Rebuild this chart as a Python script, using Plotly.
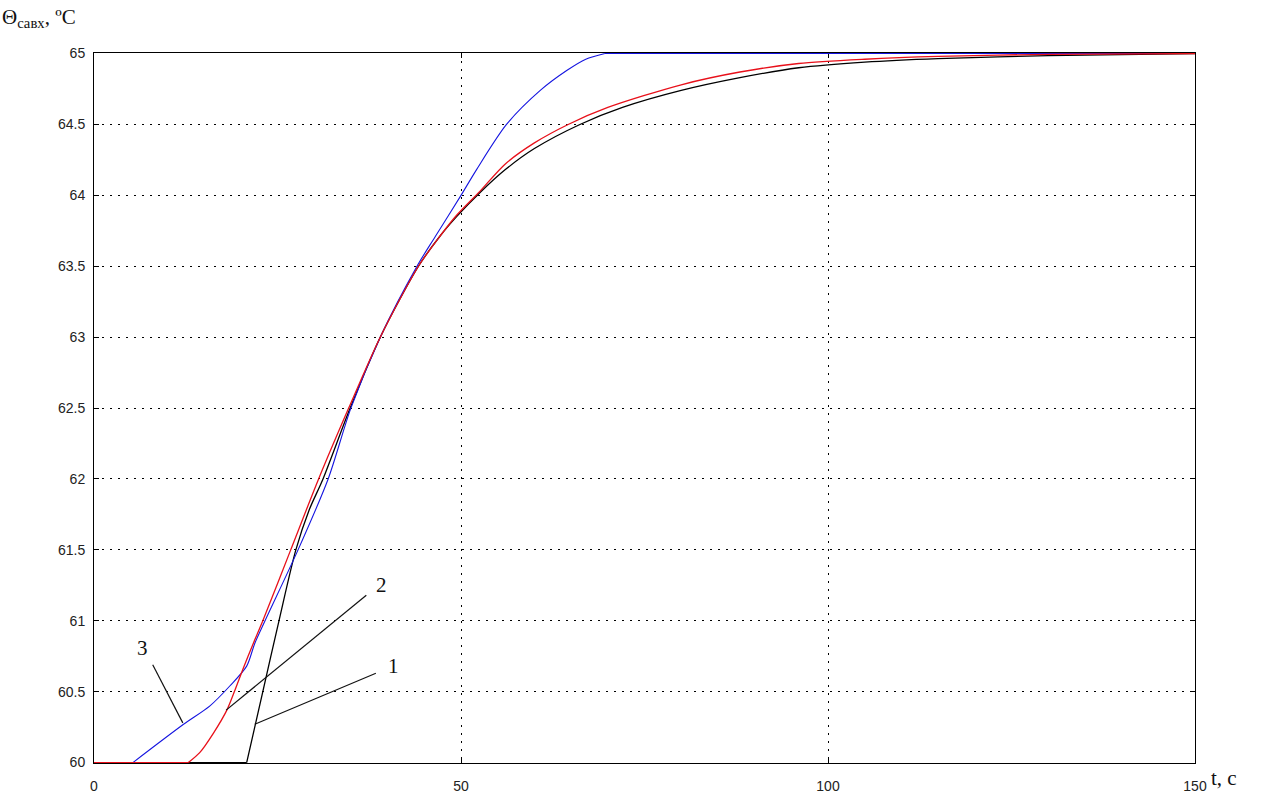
import plotly.graph_objects as go

# Curve 1 (black)
t1 = [0, 20.8, 23.0, 25.2, 27.5, 29.3, 31.2, 34.9, 39.0, 44.2, 47.1, 49.4, 52.6, 56, 60, 66.2, 72, 80, 88, 96, 105, 115, 130, 150]
v1 = [60, 60, 60.5, 61.0, 61.5, 61.78, 62.0, 62.5, 63.0, 63.5, 63.71, 63.85, 64.02, 64.18, 64.33, 64.5, 64.62, 64.74, 64.83, 64.9, 64.94, 64.965, 64.985, 65.0]

# Curve 2 (red)
t2 = [0, 12.85, 14.4, 16.3, 18.1, 19.2, 20.3, 21.7, 23.0, 26.8, 30.6, 34.7, 39.0, 44.2, 47.1, 49.4, 52.6, 56, 60, 64.6, 70, 80, 88, 96, 105, 115, 130, 150]
v2 = [60, 60, 60.07, 60.21, 60.37, 60.51, 60.66, 60.84, 61.0, 61.5, 62.0, 62.5, 63.0, 63.5, 63.71, 63.86, 64.03, 64.22, 64.37, 64.5, 64.62, 64.78, 64.87, 64.93, 64.96, 64.98, 64.995, 65.0]

# Curve 3 (blue)
t3 = [0, 5.3, 12.2, 15.8, 18.5, 20.8, 21.9, 23.3, 27.8, 31.9, 35.0, 39.0, 44.0, 46.5, 50.0, 52.1, 56.2, 60.8, 64.4, 67.0, 69.6, 150]
v3 = [60, 60, 60.27, 60.40, 60.54, 60.68, 60.84, 61.0, 61.5, 62.0, 62.5, 63.0, 63.5, 63.71, 64.0, 64.18, 64.5, 64.74, 64.88, 64.96, 65.0, 65.0]

x_ticks = [0, 50, 100, 150]
y_ticks = [60, 60.5, 61, 61.5, 62, 62.5, 63, 63.5, 64, 64.5, 65]
y_tick_text = ["60", "60.5", "61", "61.5", "62", "62.5", "63", "63.5", "64", "64.5", "65"]

# Curve labels: text, text position, leader line start/end
labels = ["1", "2", "3"]
label_t = [40.8, 39.2, 6.6]
label_v = [60.68, 61.25, 60.81]
lead_t0 = [38.4, 37.1, 8.0]
lead_v0 = [60.63, 61.18, 60.69]
lead_t1 = [21.9, 18.0, 12.1]
lead_v1 = [60.27, 60.37, 60.28]


def split_flat(t, v):
    """Split a curve into flat plateaus drawn straight and a rising part drawn smooth."""
    lo_end = max(i for i in range(len(v)) if v[i] == v[0])
    hi_start = min(i for i in range(len(v)) if v[i] == v[-1])
    parts = [(t[:lo_end + 1], v[:lo_end + 1], "linear"),
             (t[lo_end:hi_start + 1], v[lo_end:hi_start + 1], "spline")]
    if hi_start < len(v) - 1:
        parts.append((t[hi_start:], v[hi_start:], "linear"))
    return parts


fig = go.Figure()
for (t, v, color, width) in [(t1, v1, "#000000", 1.3), (t3, v3, "#1414E0", 1.1), (t2, v2, "#E8101A", 1.3)]:
    for (tt, vv, shape) in split_flat(t, v):
        fig.add_trace(go.Scatter(x=tt, y=vv, mode="lines", line=dict(color=color, width=width, shape=shape, smoothing=0.8),
                                 showlegend=False, hoverinfo="skip"))

for i in range(len(labels)):
    fig.add_shape(type="line", x0=lead_t0[i], y0=lead_v0[i], x1=lead_t1[i], y1=lead_v1[i],
                  xref="x", yref="y", line=dict(color="#111111", width=1.2))
    fig.add_annotation(x=label_t[i], y=label_v[i], xref="x", yref="y", text=labels[i], showarrow=False,
                       font=dict(family="Liberation Serif, Times New Roman, serif", size=21, color="#111111"))

fig.update_layout(
    width=1270, height=794,
    margin=dict(l=94, r=75, t=53, b=31, autoexpand=False),
    paper_bgcolor="white", plot_bgcolor="white",
    font=dict(family="Liberation Sans, Arial, sans-serif", size=14, color="#222222"),
    xaxis=dict(range=[0, 150], tickvals=x_ticks, ticktext=[str(v) for v in x_ticks], automargin=False,
               showgrid=True, gridcolor="#000000", griddash="2px,6px", gridwidth=1,
               showline=True, linecolor="#000000", linewidth=1, mirror="ticks",
               ticks="inside", ticklen=5, tickcolor="#000000", zeroline=False,
               layer="below traces", ticklabelstandoff=10),
    yaxis=dict(range=[59.997, 65.004], tickvals=y_ticks, ticktext=y_tick_text, automargin=False,
               showgrid=True, gridcolor="#000000", griddash="2px,6px", gridwidth=1,
               showline=True, linecolor="#000000", linewidth=1, mirror="ticks",
               ticks="inside", ticklen=5, tickcolor="#000000", zeroline=False,
               layer="below traces", ticklabelstandoff=5),
)

# Axis titles
fig.add_annotation(x=-94/1101, y=1 + 35/710, xref="paper", yref="paper", xanchor="left", yanchor="middle",
                   text="Θ<sub>савх</sub>, ºC", showarrow=False,
                   font=dict(family="Liberation Serif, Times New Roman, serif", size=21, color="#111111"))
fig.add_annotation(x=1 + 14/1101, y=-15/710, xref="paper", yref="paper", xanchor="left", yanchor="middle",
                   text="t, c", showarrow=False,
                   font=dict(family="Liberation Serif, Times New Roman, serif", size=21, color="#111111"))

fig.write_html("out.html")
